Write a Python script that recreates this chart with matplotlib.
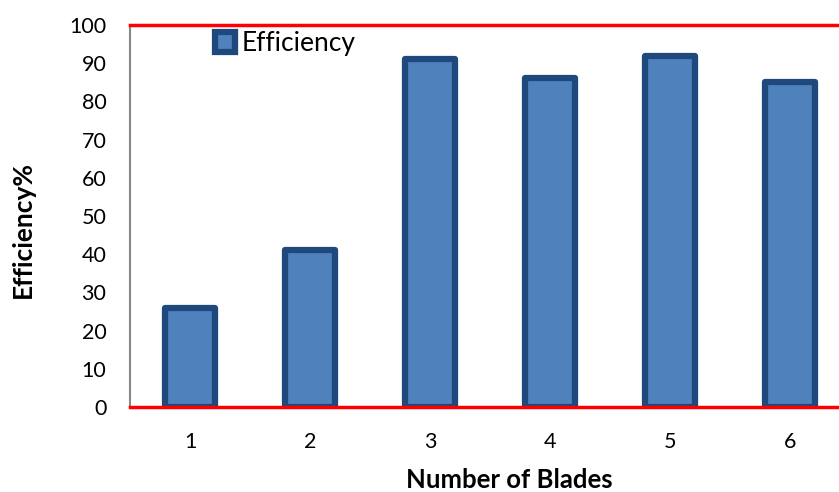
import matplotlib
matplotlib.use("Agg")
import matplotlib.pyplot as plt

categories = ["1", "2", "3", "4", "5", "6"]
efficiency = [26, 41, 91, 86, 92, 85]
yticks = [0, 10, 20, 30, 40, 50, 60, 70, 80, 90, 100]

plt.rcParams['font.family'] = ['Lato', 'DejaVu Sans']

fig = plt.figure(figsize=(8.39, 4.92), dpi=100)
ax = fig.add_axes([130/839, 85/492, 720/839, 382/492])

x = list(range(len(categories)))
bars = ax.bar(x, efficiency, width=0.42, color="#4F81BD", edgecolor="#1F497D",
              linewidth=4.5, label="Efficiency", zorder=3)
for b in bars:
    b.set_joinstyle('round')

ax.set_xlim(-0.5, 5.5)
ax.set_ylim(0, 100)
ax.set_yticks(yticks)
ax.set_xticks(x)
ax.set_xticklabels(categories)
ax.tick_params(axis='both', length=0, labelsize=15.5)
ax.tick_params(axis='x', pad=18)
ax.tick_params(axis='y', pad=17)

for s in ['top', 'bottom']:
    ax.spines[s].set_color('red')
    ax.spines[s].set_linewidth(2.5)
    ax.spines[s].set_zorder(4)
ax.spines['left'].set_color('#888888')
ax.spines['left'].set_linewidth(1.5)
ax.spines['right'].set_visible(False)

ax.set_xlabel("Number of Blades", fontsize=18.5, fontweight='bold', va='center')
ax.xaxis.set_label_coords((509 - 130) / 720, (407 - 480) / 382)
ax.set_ylabel("Efficiency%", fontsize=19, fontweight='bold', va='center')
ax.yaxis.set_label_coords((23 - 130) / 720, (407 - 229) / 382)

leg = ax.legend(loc='upper left', bbox_to_anchor=(0.085, 1.046), frameon=False,
                fontsize=19, handlelength=0.75, handleheight=0.75, handletextpad=0.25)

fig.savefig("out.png", dpi=100)
